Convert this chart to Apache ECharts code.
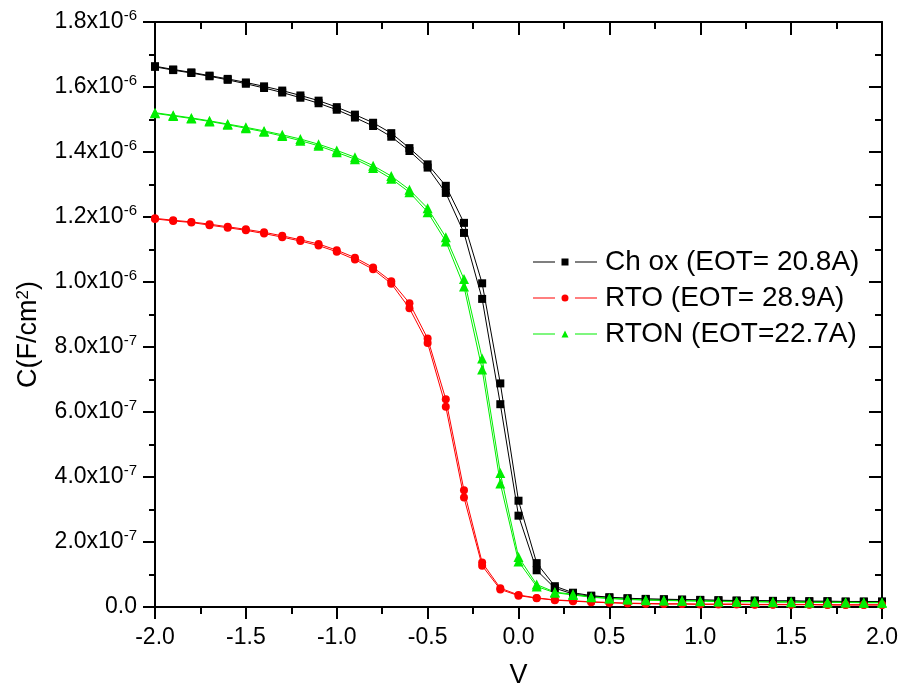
<!DOCTYPE html>
<html><head><meta charset="utf-8">
<script src="https://cdn.jsdelivr.net/npm/echarts@6/dist/echarts.min.js"></script>
<style>html,body{margin:0;padding:0;background:#fff}#c{width:901px;height:694px}</style>
</head><body><div id="c"></div>
<script>
// Gate voltage (V)
const voltage = [-2.0,-1.9,-1.8,-1.7,-1.6,-1.5,-1.4,-1.3,-1.2,-1.1,-1.0,-0.9,-0.8,-0.7,-0.6,-0.5,-0.4,-0.3,-0.2,-0.1,
  0.0,0.1,0.2,0.3,0.4,0.5,0.6,0.7,0.8,0.9,1.0,1.1,1.2,1.3,1.4,1.5,1.6,1.7,1.8,1.9,2.0];
// Capacitance in units of 1e-6 F/cm^2 (two sweeps per sample)
const choxA = [1.664,1.654,1.645,1.635,1.625,1.614,1.602,1.589,1.574,1.558,1.538,1.515,1.490,1.458,1.412,1.362,1.296,1.182,0.996,0.688,
  0.327,0.135,0.064,0.044,0.035,0.030,0.027,0.025,0.024,0.023,0.022,0.021,0.020,0.020,0.019,0.019,0.018,0.018,0.017,0.017,0.017];
const choxB = [1.662,1.652,1.643,1.633,1.622,1.610,1.597,1.583,1.567,1.550,1.530,1.506,1.480,1.447,1.403,1.352,1.274,1.151,0.948,0.624,
  0.281,0.113,0.058,0.040,0.033,0.029,0.026,0.024,0.023,0.022,0.021,0.020,0.019,0.019,0.018,0.018,0.017,0.017,0.016,0.016,0.016];
const rtoA = [1.196,1.190,1.185,1.178,1.170,1.162,1.153,1.142,1.130,1.117,1.098,1.075,1.045,1.002,0.935,0.826,0.639,0.359,0.137,0.058,
  0.037,0.028,0.022,0.019,0.016,0.014,0.012,0.011,0.010,0.010,0.009,0.009,0.009,0.008,0.008,0.008,0.008,0.007,0.007,0.007,0.007];
const rtoB = [1.194,1.188,1.183,1.175,1.167,1.159,1.149,1.138,1.126,1.112,1.093,1.069,1.039,0.995,0.919,0.812,0.616,0.337,0.127,0.054,
  0.035,0.027,0.021,0.018,0.015,0.013,0.011,0.010,0.009,0.009,0.008,0.008,0.008,0.007,0.007,0.007,0.007,0.006,0.006,0.006,0.006];
const rtonA = [1.521,1.513,1.505,1.496,1.486,1.476,1.465,1.453,1.440,1.424,1.405,1.384,1.358,1.326,1.284,1.227,1.138,1.009,0.765,0.412,
  0.154,0.069,0.046,0.039,0.031,0.027,0.024,0.022,0.021,0.020,0.019,0.018,0.017,0.017,0.016,0.016,0.015,0.015,0.015,0.014,0.014];
const rtonB = [1.519,1.511,1.503,1.494,1.484,1.473,1.462,1.449,1.435,1.419,1.399,1.378,1.351,1.318,1.276,1.215,1.125,0.986,0.731,0.380,
  0.140,0.063,0.044,0.037,0.030,0.026,0.023,0.021,0.020,0.019,0.018,0.017,0.016,0.016,0.015,0.015,0.014,0.014,0.014,0.013,0.013];

const names = ['Ch ox (EOT= 20.8A)', 'RTO (EOT= 28.9A)', 'RTON (EOT=22.7A)'];
const colors = ['#000000', '#ff0000', '#00ee00'];
const xTicks = {min: -2, max: 2, step: 0.5};
const yTicks = {min: 0, max: 1.8, step: 0.2};

const FONT = 'Arial, "Liberation Sans", sans-serif';
const pairs = arr => voltage.map((v, i) => [v, arr[i]]);

function mkSeries(name, arr, color, symbol, size) {
  return {
    name: name, type: 'line', data: pairs(arr), symbol: symbol, symbolSize: size,
    showAllSymbol: true, clip: false,
    lineStyle: {color: color, width: 1},
    itemStyle: {color: color, borderWidth: 0},
    emphasis: {disabled: true}
  };
}

const icons = [
  'path://M0,3h22v1H0z M28.5,0h7v7h-7z M42,3h22v1H42z',
  'path://M0,3h22v1H0z M28.5,3.5a3.5,3.5 0 1,0 7,0a3.5,3.5 0 1,0 -7,0z M42,3h22v1H42z',
  'path://M0,3h22v1H0z M32,0L35.5,7L28.5,7z M42,3h22v1H42z'
];

function yFmt(v) {
  if (Math.abs(v) < 1e-9) return '{b|0.0}';
  if (v >= 1 - 1e-9) return '{b|' + v.toFixed(1) + 'x10}{s|-6}';
  return '{b|' + (v * 10).toFixed(1) + 'x10}{s|-7}';
}

const axisLineStyle = {color: '#000', width: 2};
const chart = echarts.init(document.getElementById('c'), null, {renderer: 'canvas'});
chart.setOption({
  animation: false,
  backgroundColor: '#fff',
  textStyle: {fontFamily: FONT},
  grid: {left: 155, right: 19, top: 22, bottom: 83},
  legend: {
    orient: 'vertical', left: 528, top: 243, itemWidth: 64, itemHeight: 7, itemGap: 8,
    itemStyle: {borderWidth: 0},
    textStyle: {fontSize: 28, lineHeight: 28, color: '#000', fontFamily: FONT, padding: [0, 0, 0, 3]},
    data: names.map((n, i) => ({name: n, icon: icons[i]}))
  },
  xAxis: [{
    type: 'value', min: xTicks.min, max: xTicks.max, interval: xTicks.step,
    name: 'V', nameLocation: 'middle', nameGap: 55,
    nameTextStyle: {fontSize: 27, color: '#000', fontFamily: FONT},
    axisLine: {show: true, onZero: false, lineStyle: axisLineStyle},
    axisTick: {show: true, inside: false, length: 12, lineStyle: {width: 2, color: '#000'}},
    minorTick: {show: true, splitNumber: 2, length: 7, lineStyle: {width: 2, color: '#000'}},
    axisLabel: {fontSize: 23, color: '#000', margin: 19, fontFamily: FONT, formatter: v => v.toFixed(1)},
    splitLine: {show: false}
  }, {
    type: 'value', position: 'top', min: xTicks.min, max: xTicks.max, interval: xTicks.step,
    axisLine: {show: true, onZero: false, lineStyle: axisLineStyle},
    axisTick: {show: true, inside: true, length: 13, lineStyle: {width: 2, color: '#000'}},
    minorTick: {show: true, splitNumber: 2, length: 7, lineStyle: {width: 2, color: '#000'}},
    axisLabel: {show: false}, splitLine: {show: false}
  }],
  yAxis: [{
    type: 'value', min: yTicks.min, max: yTicks.max, interval: yTicks.step,
    name: '{a|C(F/cm}{s|2}{a|)}', nameLocation: 'middle', nameRotate: 90, nameGap: 113,
    nameTextStyle: {color: '#000', fontFamily: FONT, padding: [0, 40, 0, 0],
      rich: {a: {fontSize: 27, fontFamily: FONT, color: '#000'}, s: {fontSize: 17, fontFamily: FONT, color: '#000', verticalAlign: 'top', lineHeight: 17}}},
    axisLine: {show: true, onZero: false, lineStyle: axisLineStyle},
    axisTick: {show: true, inside: false, length: 12, lineStyle: {width: 2, color: '#000'}},
    minorTick: {show: true, splitNumber: 2, length: 6, lineStyle: {width: 2, color: '#000'}},
    axisLabel: {margin: 18, color: '#000', formatter: yFmt,
      rich: {b: {fontSize: 23, fontFamily: FONT, color: '#000', lineHeight: 27},
             s: {fontSize: 15, fontFamily: FONT, color: '#000', verticalAlign: 'top', lineHeight: 15}}},
    splitLine: {show: false}
  }, {
    type: 'value', position: 'right', min: yTicks.min, max: yTicks.max, interval: yTicks.step,
    axisLine: {show: true, onZero: false, lineStyle: axisLineStyle},
    axisTick: {show: true, inside: true, length: 13, lineStyle: {width: 2, color: '#000'}},
    minorTick: {show: true, splitNumber: 2, length: 7, lineStyle: {width: 2, color: '#000'}},
    axisLabel: {show: false}, splitLine: {show: false}
  }],
  series: [
    mkSeries(names[0], choxA, colors[0], 'rect', 8),
    mkSeries(names[0], choxB, colors[0], 'rect', 8),
    mkSeries(names[1], rtoA, colors[1], 'circle', 8),
    mkSeries(names[1], rtoB, colors[1], 'circle', 8),
    mkSeries(names[2], rtonA, colors[2], 'triangle', 10),
    mkSeries(names[2], rtonB, colors[2], 'triangle', 10)
  ]
});
</script>
</body></html>
